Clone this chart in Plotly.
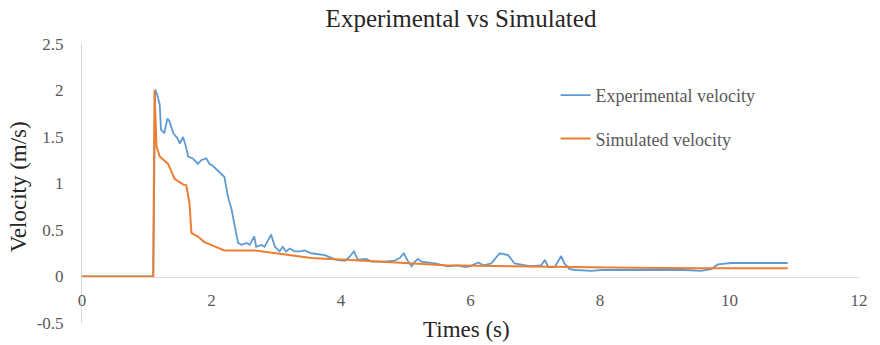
import plotly.graph_objects as go

# ---- data ----
exp_t = [0, 1.10, 1.13, 1.16, 1.20, 1.22, 1.27, 1.32, 1.35, 1.41,
         1.47, 1.51, 1.56, 1.60, 1.64, 1.71, 1.79, 1.84, 1.92, 1.97,
         2.02, 2.10, 2.18, 2.20, 2.25, 2.31, 2.36, 2.41, 2.46, 2.54,
         2.59, 2.66, 2.69, 2.77, 2.82, 2.92, 2.98, 3.05, 3.10, 3.15,
         3.21, 3.28, 3.36, 3.44, 3.54, 3.75, 3.93, 4.06, 4.13, 4.20,
         4.26, 4.39, 4.47, 4.67, 4.83, 4.91, 4.97, 5.03, 5.09, 5.14,
         5.19, 5.24, 5.45, 5.65, 5.81, 5.91, 5.99, 6.12, 6.20, 6.32,
         6.45, 6.58, 6.68, 6.94, 7.09, 7.15, 7.20, 7.30, 7.40, 7.45,
         7.53, 7.63, 7.87, 8.02, 8.90, 9.31, 9.56, 9.72, 9.82, 10.03,
         10.90]
exp_v = [0, 0, 2.01, 1.96, 1.85, 1.58, 1.54, 1.70, 1.67, 1.54,
         1.49, 1.43, 1.50, 1.41, 1.29, 1.27, 1.21, 1.25, 1.27, 1.21,
         1.19, 1.14, 1.09, 1.07, 0.87, 0.72, 0.54, 0.36, 0.34, 0.36,
         0.34, 0.43, 0.32, 0.34, 0.32, 0.45, 0.32, 0.27, 0.32, 0.27,
         0.30, 0.27, 0.27, 0.28, 0.25, 0.23, 0.18, 0.17, 0.21, 0.27,
         0.18, 0.19, 0.16, 0.16, 0.17, 0.20, 0.25, 0.17, 0.11, 0.16,
         0.19, 0.16, 0.14, 0.11, 0.12, 0.10, 0.11, 0.15, 0.12, 0.14,
         0.25, 0.23, 0.14, 0.11, 0.12, 0.18, 0.10, 0.10, 0.22, 0.14,
         0.08, 0.07, 0.06, 0.07, 0.07, 0.07, 0.06, 0.08, 0.13, 0.145,
         0.145]

sim_t = [0, 1.10, 1.12, 1.15, 1.20, 1.33, 1.43, 1.56, 1.61, 1.66,
         1.69, 1.74, 1.79, 1.89, 2.05, 2.20, 2.67, 2.98, 3.28, 3.54,
         4.57, 5.60, 6.63, 7.61, 8.50, 9.50, 10.90]
sim_v = [0, 0, 2.00, 1.40, 1.29, 1.21, 1.05, 0.99, 0.98, 0.79,
         0.47, 0.45, 0.43, 0.37, 0.32, 0.28, 0.28, 0.25, 0.22, 0.20,
         0.16, 0.12, 0.11, 0.10, 0.095, 0.09, 0.09]

x_ticks = [0, 2, 4, 6, 8, 10, 12]
y_ticks = [-0.5, 0, 0.5, 1, 1.5, 2, 2.5]
y_ticklabels = ["-0.5", "0", "0.5", "1", "1.5", "2", "2.5"]

assert len(exp_t) == len(exp_v) and len(sim_t) == len(sim_v)

SERIF = "Liberation Serif"
BLUE = "#5E9BD2"
ORANGE = "#ED7D31"

fig = go.Figure()
fig.add_trace(go.Scatter(x=exp_t, y=exp_v, mode="lines", name="Experimental velocity",
                         legendgroup="a", line=dict(color=BLUE, width=1.8)))
fig.add_trace(go.Scatter(x=sim_t, y=sim_v, mode="lines", name="Simulated velocity",
                         legendgroup="b", line=dict(color=ORANGE, width=2.0)))

W, H = 880, 345
L, R, T, B = 82, 12, 44, 21
pw, ph = W - L - R, H - T - B

def px_x(p):
    return (p - L) / pw

def px_y(p):
    return (H - B - p) / ph

fig.update_layout(
    width=W, height=H,
    margin=dict(l=L, r=R, t=T, b=B, pad=0),
    paper_bgcolor="white", plot_bgcolor="white",
    font=dict(family=SERIF, color="#595959"),
    title=dict(text="Experimental vs Simulated", x=461 / W, xanchor="center",
               xref="container", yref="container", y=1 - 18 / H, yanchor="middle",
               font=dict(family=SERIF, size=25, color="#262626")),
    showlegend=True,
    legend=dict(x=px_x(561), y=px_y(77), xanchor="left", yanchor="top",
                bgcolor="rgba(0,0,0,0)", font=dict(family=SERIF, size=18, color="#595959"),
                tracegroupgap=17, traceorder="grouped", itemwidth=30),
    xaxis=dict(range=[0, 12], tickvals=x_ticks, showgrid=False, zeroline=False,
               anchor="free", position=0.5 / 3, showline=True, linecolor="#d9d9d9",
               linewidth=1, ticks="", ticklabelstandoff=8,
               tickfont=dict(family=SERIF, size=17, color="#595959")),
    yaxis=dict(range=[-0.5, 2.5], tickvals=y_ticks, ticktext=y_ticklabels,
               showgrid=False, zeroline=False, showline=True, linecolor="#d9d9d9",
               linewidth=1, ticks="", ticklabelstandoff=14,
               tickfont=dict(family=SERIF, size=17, color="#595959")),
    annotations=[
        dict(text="Times (s)", xref="paper", yref="paper", x=px_x(471), y=px_y(331),
             xanchor="center", yanchor="middle", showarrow=False,
             font=dict(family=SERIF, size=23, color="#262626")),
        dict(text="Velocity (m/s)", xref="paper", yref="paper", x=px_x(18), y=px_y(187),
             xanchor="center", yanchor="middle", showarrow=False, textangle=-90,
             font=dict(family=SERIF, size=23, color="#262626")),
    ],
)

fig.write_html("out.html")
